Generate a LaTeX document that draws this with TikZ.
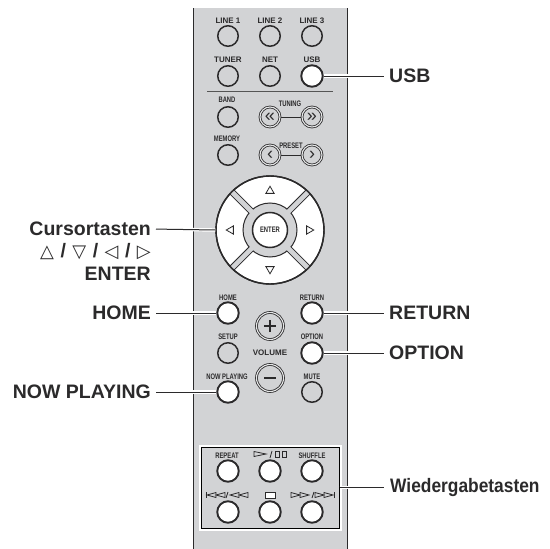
\documentclass[tikz,border=0pt]{standalone}
\usepackage{fontspec}
\usepackage{xcolor}
\setmainfont{Liberation Sans}
\newfontfamily\condfont[FakeStretch=0.73]{Liberation Sans}
\newfontfamily\vidfont[FakeStretch=0.89]{Liberation Sans}
\newfontfamily\symfont{DejaVu Sans}
\newcommand{\keysym}[1]{{\symfont\fontsize{18}{18}\selectfont #1}}
\definecolor{panelgray}{HTML}{D2D3D5}
\definecolor{inkdark}{HTML}{2B2A2B}
\usetikzlibrary{positioning,shapes.geometric}

\begin{document}
\begin{tikzpicture}[x=1pt, y=-1pt, line cap=butt, text=inkdark,
  btn/.style={draw=inkdark, circle, line width=1.5pt, minimum size=20.5pt, inner sep=0pt, fill=panelgray},
  hot/.style={draw=inkdark, circle, line width=1.9pt, minimum size=21.5pt, inner sep=0pt, fill=white},
  dbl/.style={draw=inkdark, circle, line width=.8pt, double=panelgray!60, double distance=1.1pt, minimum size=20pt, inner sep=0pt, fill=panelgray},
  lab/.style={inner sep=0pt, font=\fontsize{8}{8}\selectfont\condfont\bfseries},
  wide/.style={inner sep=0pt, font=\fontsize{8}{8}\selectfont\bfseries},
  call/.style={inner sep=0pt, font=\fontsize{19.5}{19.5}\selectfont\bfseries},
  tri/.style={draw=inkdark, regular polygon, regular polygon sides=3, line width=.8pt, minimum size=9.5pt, inner sep=0pt},
  leader/.style={draw=inkdark, line width=1pt, preaction={draw=white, line width=3.4pt}}]
\useasboundingbox (0,0) rectangle (550,549);
% panel
\fill[panelgray] (193,8) rectangle (347,549);
\draw[inkdark, line width=1pt] (193,8) -- (193,549) (347,8) -- (347,549);
\draw[inkdark!80, line width=.8pt] (207,91) -- (333,91);

% top rows
\node[btn] (line1) at (228,36) {}; \node[btn] (line2) at (270,36) {}; \node[btn] (line3) at (312,36) {};
\node[wide] at (228,21) {LINE 1}; \node[wide] at (270,21) {LINE 2}; \node[wide] at (312,21) {LINE 3};
\node[btn] (tuner) at (228,76) {}; \node[btn] (net) at (270,76) {}; \node[hot] (usb) at (312,76) {};
\node[wide] at (228,60) {TUNER}; \node[wide] at (270,60) {NET}; \node[wide] at (312,60) {USB};
\node[btn] (band) at (228,117) {}; \node[lab] at (227,100) {BAND};
\node[btn] (memory) at (228,155) {}; \node[lab] at (227,139) {MEMORY};
\draw[inkdark, line width=1pt] (270,117) -- (312,117) (270,155) -- (312,155);
\node[dbl, font=\fontsize{18}{18}\selectfont] (tunl) at (270,117) {«};
\node[dbl, font=\fontsize{18}{18}\selectfont] (tunr) at (312,117) {»};
\node[dbl, font=\fontsize{18}{18}\selectfont] (prel) at (270,155) {‹};
\node[dbl, font=\fontsize{18}{18}\selectfont] (prer) at (312,155) {›};
\node[lab] at (290,104) {TUNING}; \node[lab] at (291,146) {PRESET};

% cursor pad
\node[draw=inkdark, circle, line width=1.4pt, fill=white, minimum size=108pt, inner sep=0pt] (dpad) at (270,230) {};
\foreach \a in {45,135,225,315} \draw[inkdark, line width=6.6pt] (dpad.center) -- (dpad.\a);
\node[draw=inkdark, circle, line width=1pt, fill=panelgray, minimum size=54pt] (dring) at (270,230) {};
\foreach \a in {45,135,225,315} \draw[panelgray, line width=4.6pt] (dpad.center) -- (dpad.\a);
\node[draw=inkdark, circle, line width=1.4pt, minimum size=108pt] (drim) at (270,230) {};
\node[draw=inkdark, circle, line width=1.5pt, fill=white, minimum size=35pt, inner sep=0pt, font=\fontsize{8}{8}\selectfont\condfont\bfseries] (enter) at (270,230) {ENTER};
\node[tri, shape border rotate=0] (arrup) at (270,191) {};
\node[tri, shape border rotate=180] (arrdn) at (270,269) {};
\node[tri, shape border rotate=90] (arrlt) at (231,230) {};
\node[tri, shape border rotate=270] (arrrt) at (309,230) {};

% home row
\node[hot] (home) at (228,313) {}; \node[lab] at (228,298) {HOME};
\node[hot] (return) at (312,313) {}; \node[lab] at (312,298) {RETURN};
\node[btn] (setup) at (228,353) {}; \node[lab] at (228,337) {SETUP};
\node[hot] (option) at (312,353) {}; \node[lab] at (312,337) {OPTION};
\node[hot] (nowplay) at (228,392) {}; \node[lab] at (227,377) {NOW PLAYING};
\node[btn] (mute) at (312,392) {}; \node[lab] at (312,377) {MUTE};
\node[dbl, minimum size=27pt] (volup) at (270,326) {};
\node[dbl, minimum size=27pt] (voldn) at (270,378) {};
\node[wide] at (270,353) {VOLUME};
\draw[inkdark, line width=1.5pt] ([xshift=-6pt]volup.center) -- ([xshift=6pt]volup.center)
  ([yshift=-6pt]volup.center) -- ([yshift=6pt]volup.center)
  ([xshift=-6pt]voldn.center) -- ([xshift=6pt]voldn.center);

% playback block
\node[draw=black, line width=1pt, fill=panelgray, minimum width=138pt, minimum height=81pt, inner sep=0pt, preaction={draw=white, line width=5pt}] (playbox) at (270,487.5) {};
\foreach \n/\x in {a/228,b/270,c/312} {
  \node[hot] (up\n) at (\x,471) {};
  \node[hot] (lo\n) at (\x,512) {};
}
\node[lab] at (227,456) {REPEAT}; \node[lab] at (312,456) {SHUFFLE};
% transport symbols
\begin{scope}[inkdark, line width=.8pt, line join=miter]
\draw (254,451.5) -- (266,454) -- (254,456.5) -- cycle;
\draw (270,458) -- (272,451);
\draw (275,451) rectangle (279,457) (282,451) rectangle (286,457);
\draw[fill=white] (265,492) rectangle (275,498);
\draw (206,492) -- (206,498);
\foreach \x in {207,216,230,239} \draw (\x+9,492.5) -- (\x,495) -- (\x+9,497.5) -- cycle;
\draw (226,498) -- (228,492);
\foreach \x in {291,300,315,324} \draw (\x,492.5) -- (\x+9,495) -- (\x,497.5) -- cycle;
\draw (312,498) -- (314,492);
\draw (334,492) -- (334,498);
\end{scope}

% callouts
\node[call, anchor=west] (lblusb) at (389,76) {USB};
\node[call, anchor=west] (lblreturn) at (389,313) {RETURN};
\node[call, anchor=west] (lbloption) at (389,353) {OPTION};
\node[inner sep=0pt, anchor=west, font=\fontsize{19.5}{19.5}\selectfont\vidfont\bfseries] (lblplay) at (390,487.5) {Wiedergabetasten};
\node[call, anchor=east] (lblcursor) at (151,229) {Cursortasten};
\node[call, anchor=east] (lblsyms) at (151,252) {\keysym{△}\,\,/\,\,\keysym{▽}\,\,/\,\,\keysym{◁}\,\,/\,\,\keysym{▷}};
\node[call, anchor=east] (lblenter) at (151,274) {ENTER};
\node[call, anchor=east] (lblhome) at (151,313) {HOME};
\node[call, anchor=east] (lblnow) at (151,392) {NOW PLAYING};

\draw[leader, shorten >=5pt] (usb.east) -- (lblusb.west);
\draw[leader, shorten >=5pt] (return.east) -- (lblreturn.west);
\draw[leader, shorten >=5pt] (option.east) -- (lbloption.west);
\draw[leader, shorten >=6pt] (playbox.east) -- (lblplay.west);
\draw[leader, shorten <=5pt] (lblcursor.east) -- (dpad.west);
\draw[leader, shorten <=5pt] (lblhome.east) -- (home.west);
\draw[leader, shorten <=5pt] (lblnow.east) -- (nowplay.west);
\end{tikzpicture}
\end{document}
